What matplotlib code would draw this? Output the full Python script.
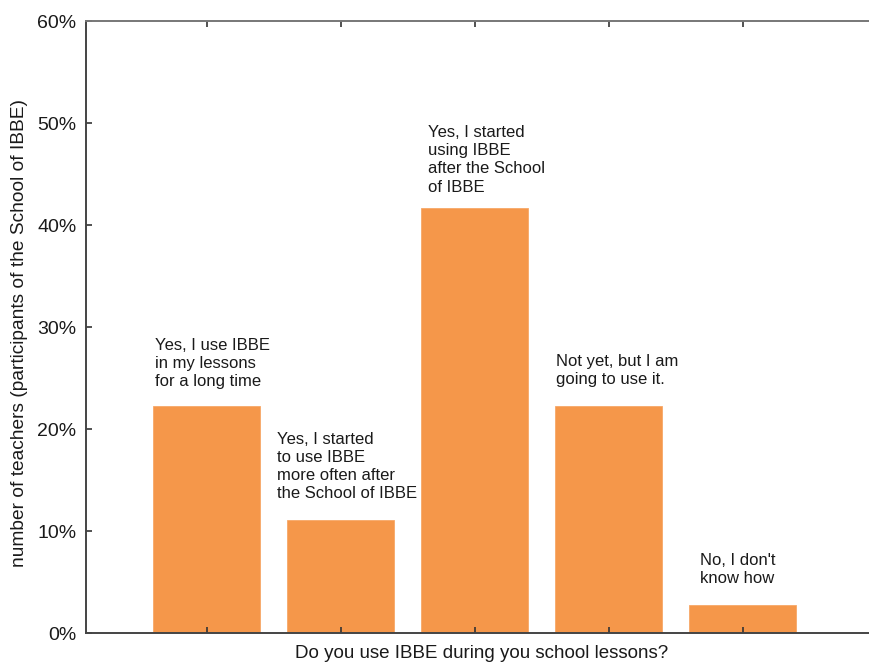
import matplotlib
matplotlib.use("Agg")
import matplotlib.pyplot as plt
from matplotlib.ticker import FuncFormatter

plt.rcParams['font.family'] = ['Liberation Sans', 'DejaVu Sans']

categories = [
    "Yes, I use IBBE\nin my lessons\nfor a long time",
    "Yes, I started\nto use IBBE\nmore often after\nthe School of IBBE",
    "Yes, I started\nusing IBBE\nafter the School\nof IBBE",
    "Not yet, but I am\ngoing to use it.",
    "No, I don't\nknow how",
]
values = [22.22, 11.11, 41.67, 22.22, 2.78]
yticks = [0, 10, 20, 30, 40, 50, 60]

# label placement (x offset from bar centre, gap above bar) in data units
label_dx = [-0.384, -0.474, -0.347, -0.392, -0.317]
label_gap = [1.7, 1.8, 1.3, 1.9, 1.8]

W, H = 869, 663
fig = plt.figure(figsize=(W / 100, H / 100), dpi=100)
unit = 134.0
xmin, xmax = -0.9, 5.0
ax = fig.add_axes([86 / W, 30 / H, (xmax - xmin) * unit / W, 612 / H])

x = list(range(len(values)))
ax.bar(x, values, width=0.8, color='#F5974A', edgecolor='#F7A868', linewidth=0.6)

for xi, v, lab, dx, g in zip(x, values, categories, label_dx, label_gap):
    ax.text(xi + dx, v + g, lab, ha='left', va='bottom', fontsize=12,
            color='#1a1a1a', linespacing=1.27)

ax.set_xlim(xmin, xmax)
ax.set_ylim(0, 60)
ax.set_yticks(yticks)
ax.yaxis.set_major_formatter(FuncFormatter(lambda v, p: f"{v:.0f}%"))
ax.set_xticks(x)
ax.set_xticklabels([])
ax.tick_params(axis='x', direction='in', top=True, bottom=True, length=4,
               width=1.2, color='#333333')
ax.tick_params(axis='y', direction='in', left=True, right=False, length=4,
               width=1.2, color='#333333', labelsize=14, pad=7,
               labelcolor='#1a1a1a')

for s in ['left', 'bottom']:
    ax.spines[s].set_color('#444444')
    ax.spines[s].set_linewidth(1.4)
ax.spines['top'].set_color('#777777')
ax.spines['top'].set_linewidth(1.4)
ax.spines['right'].set_visible(False)

ax.set_xlabel("Do you use IBBE during you school lessons?", fontsize=13.5,
              labelpad=5, color='#1a1a1a')
ax.set_ylabel("number of teachers (participants of the School of IBBE)",
              fontsize=13.8, color='#1a1a1a')
ax.yaxis.set_label_coords(-0.0733, 0.49)

fig.savefig("out.png", dpi=100)
